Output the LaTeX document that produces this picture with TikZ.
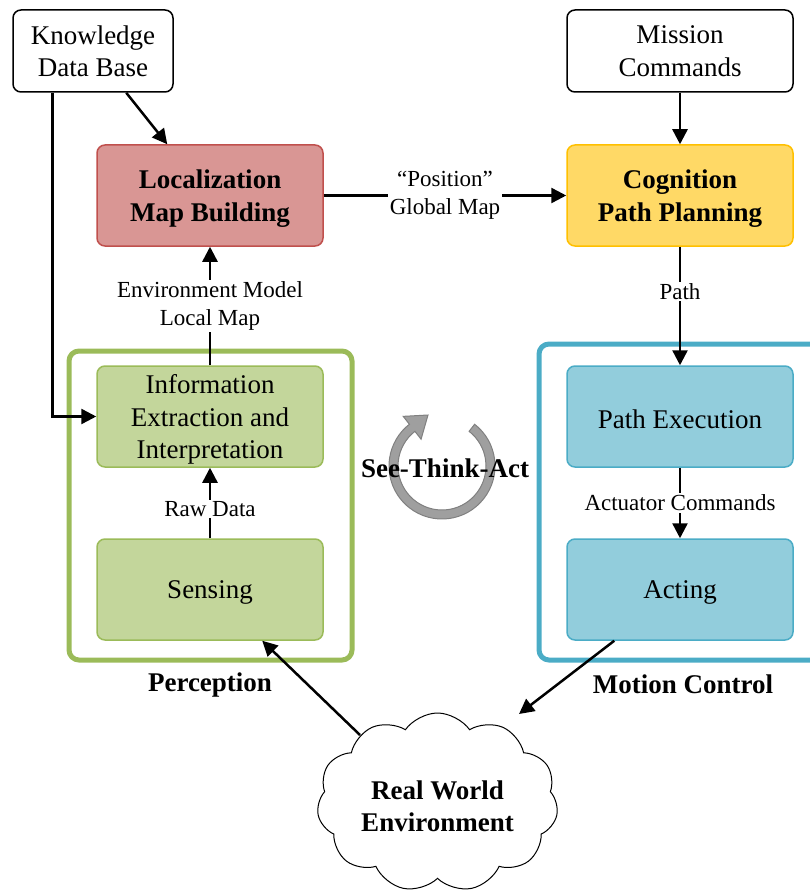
\documentclass[tikz,border=0pt]{standalone}
\usepackage{fontspec}
\setmainfont{Liberation Serif}
\usetikzlibrary{shapes.symbols,arrows.meta,calc}
\definecolor{redfill}{HTML}{D99694}
\definecolor{redline}{HTML}{C0504D}
\definecolor{yelfill}{HTML}{FFD966}
\definecolor{yelline}{HTML}{FFC000}
\definecolor{grnfill}{HTML}{C3D69B}
\definecolor{grnline}{HTML}{9BBB59}
\definecolor{blufill}{HTML}{92CDDC}
\definecolor{bluline}{HTML}{4BACC6}
\begin{document}
\begin{tikzpicture}[x=1pt,y=1pt,
  big/.style={font=\fontsize{27}{32.4}\selectfont},
  bigbold/.style={font=\fontsize{27}{32.4}\selectfont\bfseries},
  small/.style={font=\fontsize{23}{27.6}\selectfont},
  box/.style={draw, rounded corners=8pt, minimum width=226pt, minimum height=101pt,
              inner sep=0pt, line width=1.5pt},
  boxtext/.style={big, align=center, inner sep=0pt, yshift=-3pt},
  boldtext/.style={bigbold, align=center, inner sep=0pt, yshift=-3pt},
  whitebox/.style={big, align=center, draw, rounded corners=8pt, minimum width=226pt,
              minimum height=82pt, inner sep=0pt, line width=1.5pt, fill=white},
  frame/.style={draw, rounded corners=10pt, line width=5pt, inner sep=0pt},
  lbl/.style={small, fill=white, inner sep=1.5pt, align=center},
  arr/.style={line width=2.5pt, -{Triangle[width=15pt,length=15pt]}},
]
\useasboundingbox (0,0) rectangle (810,-896);
\clip (0,0) rectangle (810,-896);

% frames
\node[frame, draw=grnline, minimum width=283pt, minimum height=309pt] (pframe) at (210.5,-505.5) {};
\node[frame, draw=bluline, minimum width=311pt, minimum height=316pt] (mframe) at (694.5,-502) {};

% boxes
\node[whitebox, minimum width=160pt] (kdb) at (93,-51) {Knowledge\\Data Base};
\node[whitebox] (mis) at (680,-51) {Mission\\Commands};
\node[box, fill=redfill, draw=redline, label={[boldtext]center:{Localization\\Map Building}}] (loc) at (210,-195.5) {};
\node[box, fill=yelfill, draw=yelline, label={[boldtext]center:{Cognition\\Path Planning}}] (cog) at (680,-195.5) {};
\node[box, fill=grnfill, draw=grnline, label={[boxtext]center:{Information\\Extraction and\\Interpretation}}] (info) at (210,-416.5) {};
\node[box, fill=grnfill, draw=grnline, label={[boxtext]center:Sensing}] (sens) at (210,-589.5) {};
\node[box, fill=blufill, draw=bluline, label={[boxtext]center:Path Execution}] (pexe) at (680,-416.5) {};
\node[box, fill=blufill, draw=bluline, label={[boxtext]center:Acting}] (act) at (680,-589.5) {};

% frame titles
\node[bigbold] (ptitle) at (210,-685) {Perception};
\node[bigbold] (mtitle) at (683,-684) {Motion Control};

% cloud
\node[cloud, draw, fill=white, line width=1pt, cloud puffs=11, cloud puff arc=110, cloud ignores aspect,
      minimum width=241pt, minimum height=179pt, inner sep=0pt,
      label={[boldtext, yshift=-1pt]center:{Real World\\Environment}}] (env) at (437.5,-802.5) {};

% cycle arrow
\coordinate (C) at (442,-466);
\filldraw[fill=gray!75, draw=black!50, line width=1pt]
  ($(C)+(52:53)$) arc[start angle=52,end angle=-232,radius=53]
  -- ($(C)+(128:63)$) -- ($(C)+(-14,51)$) -- ($(C)+(128:34)$)
  -- ($(C)+(128:44)$) arc[start angle=-232,end angle=52,radius=44] -- cycle;
\node[bigbold] (stc) at (445,-468) {See-Think-Act};

% connectors
\draw[arr] ([xshift=114pt]kdb.south west) -- ([xshift=71pt]loc.north west);
\draw[arr] ([xshift=40pt]kdb.south west) |- (info.west);
\draw[arr] (loc.east) -- node[lbl] {“Position”\\Global Map} (cog.west);
\draw[arr] (mis.south) -- (cog.north);
\draw[arr] (cog.south) -- node[lbl, pos=0.375] {Path} (pexe.north);
\draw[arr] (info.north) -- node[lbl] {Environment Model\\Local Map} (loc.south);
\draw[arr] (sens.north) -- node[lbl, pos=0.42] {Raw Data} (info.south);
\draw[arr] (pexe.south) -- node[lbl] {Actuator Commands} (act.north);
\draw[arr] ([xshift=48pt]act.south west) -- ($(env.center)+(81.5,88.5)$);
\draw[arr] ($(env.center)+(-77.5,67.5)$) -- ([xshift=166pt]sens.south west);
\end{tikzpicture}
\end{document}
